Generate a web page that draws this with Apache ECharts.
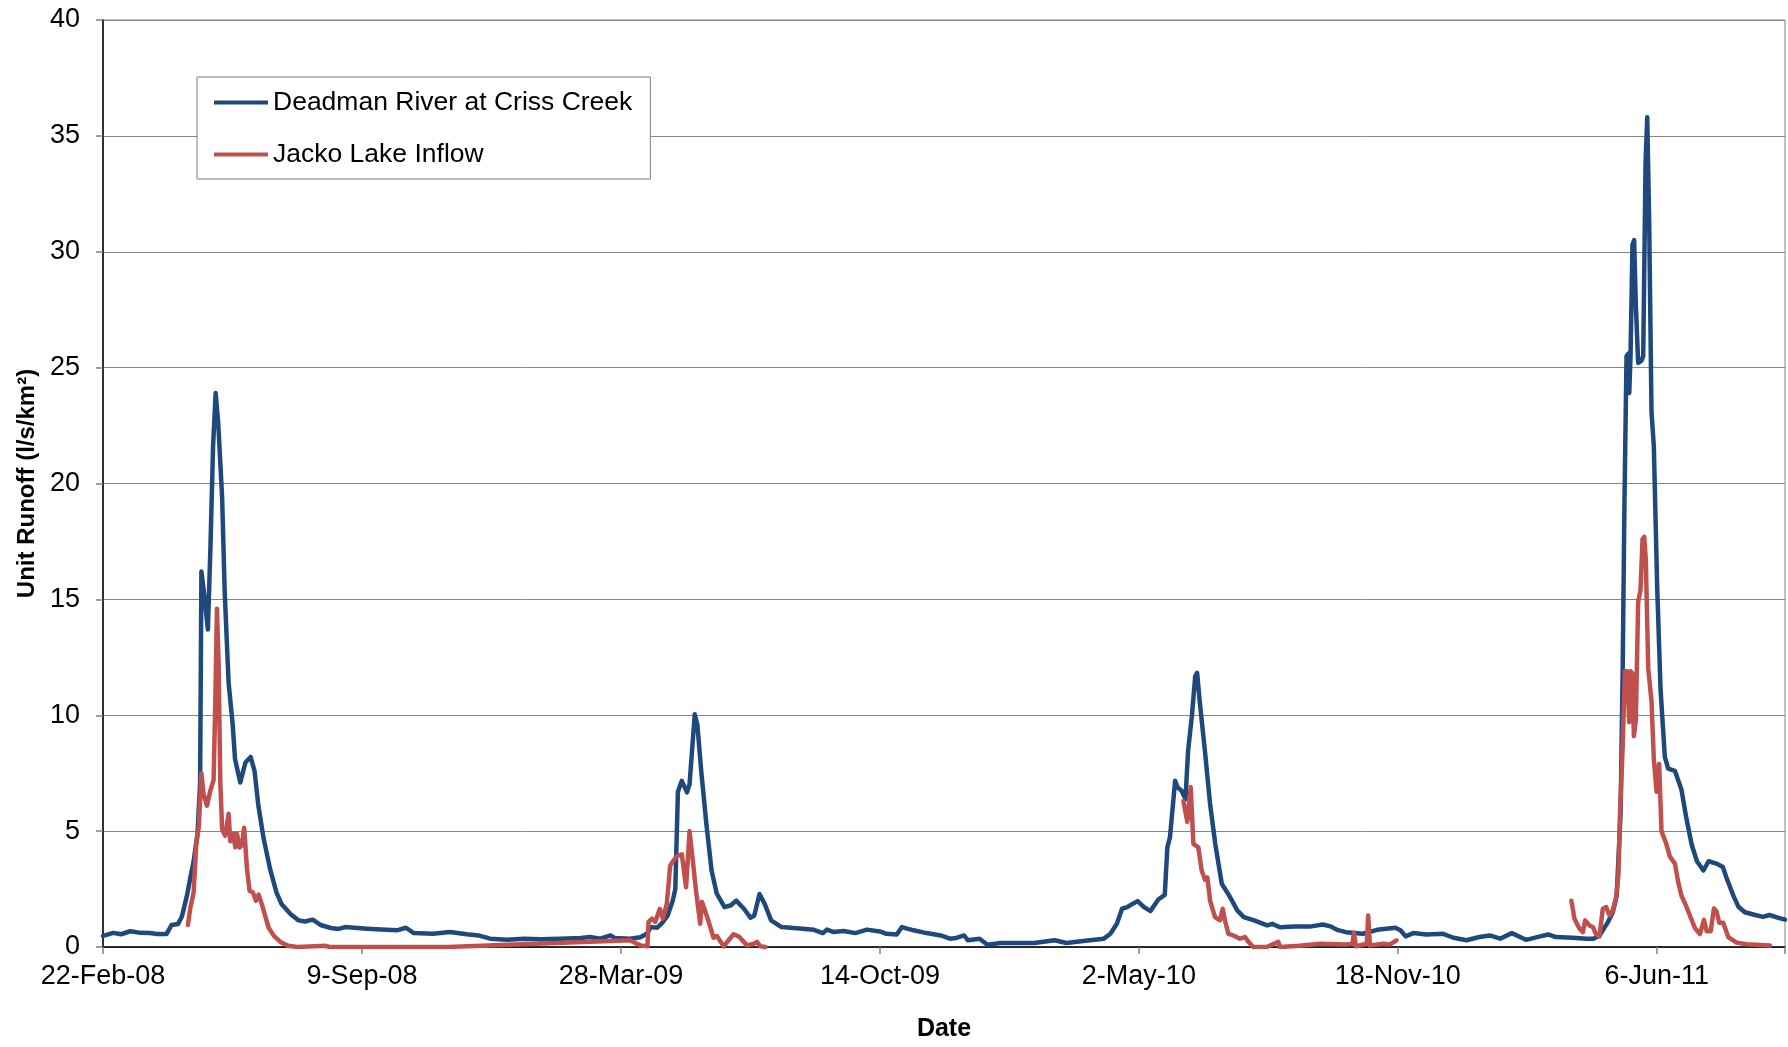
<!DOCTYPE html>
<html><head><meta charset="utf-8">
<script src="https://cdn.jsdelivr.net/npm/echarts@6/dist/echarts.min.js"></script>
<style>html,body{margin:0;padding:0;background:#fff;overflow:hidden;width:1788px;height:1047px}#chart{width:1788px;height:1047px;display:block}</style>
</head><body><div id="chart"></div>
<script>
// x values are days since 22-Feb-2008
const xTickLabels = ['22-Feb-08', '9-Sep-08', '28-Mar-09', '14-Oct-09', '2-May-10', '18-Nov-10', '6-Jun-11'];
const yTickLabels = ['0', '5', '10', '15', '20', '25', '30', '35', '40'];

const deadmanDay = [0, 8, 14, 21, 29, 36, 42, 49, 53, 58, 61, 65, 67, 70, 73, 75, 76, 78, 81, 83, 85, 87, 89, 92, 94, 97, 100, 102, 106, 110, 114, 117, 120, 124, 129, 134, 138, 145, 151, 156, 162, 168, 176, 182, 187, 204, 215, 227, 234, 240, 255, 268, 281, 290, 299, 312, 325, 338, 353, 369, 376, 384, 392, 395, 407, 415, 420, 423, 428, 432, 436, 440, 442, 444, 447, 451, 453, 457, 459, 462, 466, 470, 474, 480, 485, 489, 495, 500, 503, 507, 511, 516, 524, 538, 549, 556, 559, 564, 572, 581, 590, 600, 605, 613, 617, 626, 636, 647, 654, 659, 665, 668, 677, 683, 693, 719, 735, 744, 757, 773, 778, 783, 787, 791, 795, 799, 804, 809, 815, 820, 822, 824, 828, 830, 833, 836, 838, 841, 843.5, 845, 847, 851, 855, 859, 864, 869, 876, 881, 889, 899, 903, 909, 920, 932, 942, 948, 953, 960, 973, 984, 998, 1002, 1006, 1012, 1022, 1035, 1043, 1053, 1063, 1071, 1079, 1088, 1099, 1110, 1116, 1122, 1135, 1146, 1151, 1156, 1162, 1166, 1169, 1172, 1173.6, 1175, 1176.6, 1178, 1178.7, 1179.7, 1181.2, 1182.5, 1183.8, 1185.6, 1188.2, 1189.5, 1191.3, 1192.6, 1194.1, 1195.9, 1197.7, 1200.3, 1202.9, 1206.2, 1208.8, 1214, 1216.5, 1219, 1223, 1227, 1231, 1236, 1240, 1246, 1251, 1254, 1259, 1263, 1268, 1276, 1282, 1287, 1294, 1299];
const deadmanFlow = [0.48, 0.61, 0.55, 0.68, 0.61, 0.60, 0.56, 0.56, 0.95, 0.99, 1.33, 2.26, 2.86, 3.7, 4.9, 7.1, 16.2, 15.3, 13.7, 17.3, 21.6, 23.9, 22.6, 19.4, 15.3, 11.4, 9.7, 8.1, 7.1, 7.96, 8.2, 7.6, 6.1, 4.7, 3.37, 2.35, 1.84, 1.41, 1.15, 1.10, 1.18, 0.95, 0.82, 0.78, 0.86, 0.79, 0.75, 0.72, 0.83, 0.60, 0.57, 0.65, 0.55, 0.50, 0.36, 0.31, 0.36, 0.33, 0.36, 0.39, 0.43, 0.36, 0.50, 0.39, 0.36, 0.42, 0.57, 0.86, 0.83, 1.05, 1.35, 2.0, 2.5, 6.7, 7.17, 6.67, 7.03, 10.04, 9.6, 7.6, 5.3, 3.3, 2.3, 1.72, 1.8, 2.0, 1.65, 1.26, 1.36, 2.29, 1.86, 1.15, 0.86, 0.80, 0.74, 0.60, 0.75, 0.65, 0.69, 0.60, 0.75, 0.67, 0.57, 0.54, 0.86, 0.72, 0.60, 0.50, 0.36, 0.39, 0.50, 0.29, 0.36, 0.10, 0.17, 0.17, 0.29, 0.17, 0.26, 0.36, 0.57, 1.0, 1.65, 1.72, 1.86, 1.98, 1.72, 1.55, 2.05, 2.25, 4.3, 4.73, 7.17, 6.88, 6.74, 6.38, 8.46, 10.0, 11.68, 11.83, 10.6, 8.46, 6.17, 4.45, 2.73, 2.29, 1.58, 1.29, 1.15, 0.93, 1.0, 0.85, 0.88, 0.88, 0.97, 0.89, 0.74, 0.64, 0.57, 0.74, 0.83, 0.72, 0.46, 0.60, 0.54, 0.57, 0.40, 0.29, 0.43, 0.50, 0.36, 0.60, 0.31, 0.46, 0.54, 0.43, 0.40, 0.36, 0.36, 0.51, 1.05, 1.5, 2.2, 5.7, 11.8, 19.1, 25.5, 25.6, 23.9, 25.5, 30.3, 30.5, 27.7, 25.2, 25.3, 25.5, 33.8, 35.8, 31.3, 23.1, 21.6, 15.5, 11.1, 8.2, 7.7, 7.6, 7.2, 6.8, 5.5, 4.4, 3.7, 3.3, 3.7, 3.6, 3.45, 2.96, 2.23, 1.74, 1.5, 1.38, 1.3, 1.38, 1.26, 1.18];

const jackoDay = [65.6, 67.4, 70, 72, 74, 76, 77.7, 80.3, 83, 85.4, 86.7, 88, 89.3, 90.6, 92, 94.4, 97, 98.3, 100.4, 102.2, 103.4, 105.5, 107.3, 109, 111.2, 113.2, 115.8, 118.1, 120.2, 122.7, 125.3, 128, 132, 137, 143, 150, 172, 175, 266, 407, 415, 420.5, 421.3, 424, 426.5, 430, 432.4, 435.4, 438, 440.6, 443.7, 447, 450.3, 451.4, 453, 455.5, 458.1, 461.2, 462.5, 465, 467.6, 471.5, 474.1, 479.3, 483.1, 487, 490.9, 497.4, 502.5, 505.1, 507.7, 511.5, 600, 834.4, 837.4, 840, 842.1, 845.9, 848.5, 851.1, 852.9, 855, 858.8, 862.7, 864.7, 866.5, 869.1, 873, 878.1, 882, 884.6, 888.4, 898.7, 907.7, 909, 924, 940, 960, 965, 966, 967.6, 976, 977.1, 978.4, 989, 994, 999, 1060, 1134, 1136.4, 1140.3, 1142.9, 1144.7, 1148, 1150.6, 1153.2, 1155.7, 1158.3, 1160.9, 1163.5, 1166, 1168.6, 1170.4, 1171.5, 1173.6, 1175.4, 1177.2, 1178.7, 1179.7, 1181.2, 1182.3, 1183.8, 1185.6, 1187.4, 1189, 1190.3, 1191.5, 1193.4, 1195.9, 1197.7, 1199.8, 1201.8, 1203.6, 1207, 1210.1, 1214, 1216.5, 1219.1, 1221.7, 1225.6, 1229.4, 1233.3, 1236.4, 1238.5, 1241.6, 1244.1, 1246.1, 1248.2, 1251.3, 1255.2, 1261.6, 1269.3, 1287.4];
const jackoFlow = [0.95, 1.67, 2.35, 4.4, 5.2, 7.5, 6.6, 6.1, 6.77, 7.2, 10.5, 14.6, 12.2, 7.1, 5.07, 4.8, 5.75, 4.56, 4.9, 4.3, 4.9, 4.3, 4.4, 5.15, 3.37, 2.43, 2.35, 2.0, 2.26, 1.84, 1.33, 0.82, 0.48, 0.22, 0.05, 0.0, 0.05, 0.0, 0.0, 0.29, 0.07, 0.03, 1.08, 1.22, 1.08, 1.65, 1.22, 1.86, 3.5, 3.73, 3.94, 4.0, 2.58, 2.5, 5.0, 3.73, 2.37, 1.0, 1.95, 1.55, 1.12, 0.4, 0.47, 0.03, 0.29, 0.55, 0.46, 0.07, 0.14, 0.22, 0.03, 0.0, null, 6.3, 5.4, 6.9, 4.45, 4.3, 3.3, 2.9, 3.0, 2.0, 1.29, 1.15, 1.65, 1.15, 0.57, 0.5, 0.36, 0.43, 0.22, 0.0, 0.0, 0.22, 0.0, 0.05, 0.14, 0.11, 0.14, 0.62, 0.03, 0.14, 1.36, 0.07, 0.14, 0.11, 0.29, null, 2.0, 1.22, 0.79, 0.64, 1.15, 0.93, 0.86, 0.54, 0.46, 1.65, 1.72, 1.36, 1.58, 2.15, 3.15, 5.68, 8.6, 11.9, 11.9, 9.7, 11.9, 11.8, 9.1, 9.8, 14.9, 15.4, 17.6, 17.7, 16.7, 12.0, 10.6, 8.1, 6.7, 7.9, 5.0, 4.5, 3.9, 3.6, 2.8, 2.2, 1.9, 1.35, 0.82, 0.56, 1.17, 0.68, 0.68, 1.66, 1.54, 1.05, 1.05, 0.43, 0.19, 0.12, 0.07];

const FONT = '"Liberation Sans", Arial, sans-serif';
const zip = (xs, ys) => xs.map((x, i) => [x, ys[i]]);

const chart = echarts.init(document.getElementById('chart'), null, {renderer: 'canvas', width: 1788, height: 1047});
chart.setOption({
  animation: false,
  backgroundColor: '#ffffff',
  textStyle: {fontFamily: FONT},
  grid: {left: 103, right: 3, top: 20, bottom: 97, show: true, borderColor: '#868686', borderWidth: 1, containLabel: false},
  legend: {
    orient: 'vertical', left: 197, top: 77,
    padding: [12, 18, 11, 17],
    itemGap: 25, itemWidth: 54, itemHeight: 4, icon: 'rect',
    borderColor: '#7f7f7f', borderWidth: 1, backgroundColor: '#ffffff',
    textStyle: {fontSize: 26.5, color: '#000', fontFamily: FONT, lineHeight: 26}
  },
  xAxis: {
    type: 'value', min: 0, max: 1299, interval: 200,
    name: 'Date', nameLocation: 'middle', nameGap: 70,
    nameTextStyle: {fontWeight: 'bold', fontSize: 25, color: '#000', fontFamily: FONT},
    axisLine: {show: true, onZero: false, lineStyle: {color: '#000', width: 1.5}},
    axisTick: {show: true, length: 7, lineStyle: {color: '#808080', width: 1.5}},
    axisLabel: {
      fontSize: 27, color: '#000', margin: 16, fontFamily: FONT,
      formatter: v => {
        const k = Math.round(v / 200);
        return Math.abs(v - k * 200) < 1e-6 && xTickLabels[k] ? xTickLabels[k] : '';
      }
    },
    splitLine: {show: false}
  },
  yAxis: {
    type: 'value', min: 0, max: 40, interval: 5,
    name: 'Unit Runoff (l/s/km²)', nameLocation: 'middle', nameGap: 64,
    nameTextStyle: {fontWeight: 'bold', fontSize: 24, color: '#000', fontFamily: FONT},
    axisLine: {show: true, lineStyle: {color: '#000', width: 1.5}},
    axisTick: {show: true, length: 7, lineStyle: {color: '#808080', width: 1.5}},
    axisLabel: {
      fontSize: 27, color: '#000', margin: 23, fontFamily: FONT,
      formatter: v => yTickLabels[Math.round(v / 5)] ?? ''
    },
    splitLine: {show: true, lineStyle: {color: '#868686', width: 1}}
  },
  series: [
    {
      name: 'Deadman River at Criss Creek', type: 'line', data: zip(deadmanDay, deadmanFlow),
      showSymbol: false, symbol: 'none', color: '#1F497D',
      lineStyle: {width: 4.5, color: '#1F497D', join: 'round', cap: 'round'}, z: 2
    },
    {
      name: 'Jacko Lake Inflow', type: 'line', data: zip(jackoDay, jackoFlow),
      showSymbol: false, symbol: 'none', color: '#C0504D', connectNulls: false,
      lineStyle: {width: 4.5, color: '#C0504D', join: 'round', cap: 'round'}, z: 3
    }
  ]
});
</script></body></html>
